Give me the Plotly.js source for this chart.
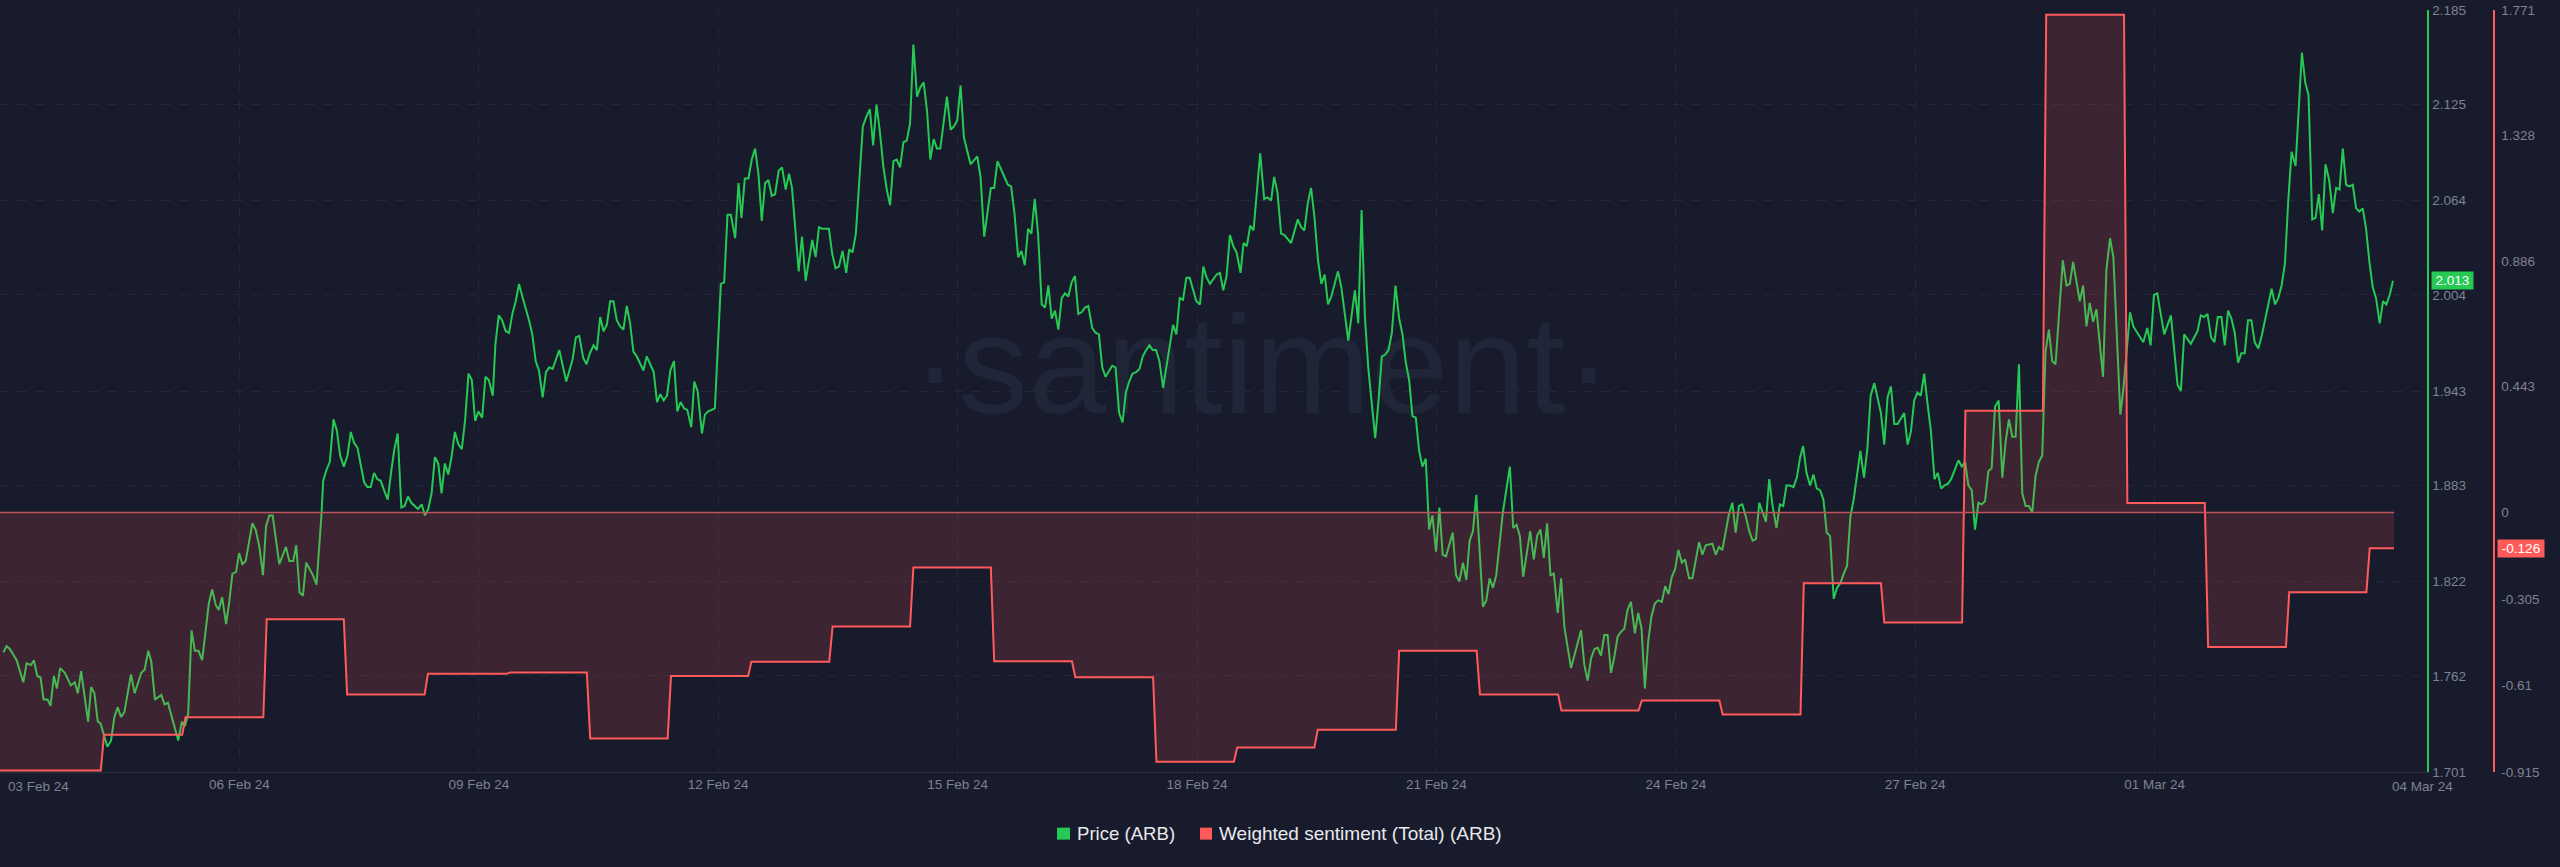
<!DOCTYPE html>
<html>
<head>
<meta charset="utf-8">
<title>Price and weighted sentiment (ARB)</title>
<script src="https://cdn.plot.ly/plotly-3.0.1.min.js"></script>
<style>
  html, body { margin: 0; padding: 0; background: #181b2b; }
</style>
</head>
<body>
<div id="chart"></div>
<script>
// hours since 03 Feb 24 00:00
const priceHours = [
  1, 2, 3, 5, 7, 8, 9.3, 10.2, 11.2, 12.2, 13.1, 14.3, 15.2, 16.2, 17.1, 18.1, 19.5, 21.3, 22.5, 23.4,
  24.4, 25.4, 26.5, 27.4, 28.4, 29.4, 30.2, 31.2, 32.3, 33.4, 34.4, 35.4, 36.4, 37.4, 39.4, 40.5, 42.5, 43.5, 44.6, 45.5,
  46.6, 48.5, 49.5, 50.5, 53.6, 54.7, 55.6, 56.6, 57.6, 58.6, 59.7, 60.8, 61.8, 62.8, 63.8, 64.9, 65.8, 66.8, 68, 69,
  69.9, 71, 71.9, 72.9, 73.9, 75.9, 76.9, 78, 79.1, 80, 81, 82, 84, 86, 87, 88.2, 89.1, 90.1, 91.1, 92.1,
  94.1, 95.2, 96.7, 97.2, 98.2, 99.2, 100.3, 101.3, 102.3, 103.4,
  104.5, 105.5, 106.5, 107.5, 109.5, 110.5, 111.5, 112.5, 113.5, 114.5, 115.5, 116.6, 117.6, 118.6, 119.6, 120.7, 121.7, 122.7, 123.7, 124.7,
  125.7, 126.8, 127.8, 128.8, 129.8, 130.8, 131.8, 132.8, 133.8, 134.8, 135.8, 136.8, 137.9, 138.9, 139.9, 140.9, 141.9, 142.9, 143.9, 145,
  146, 147, 148.2, 149, 150, 151, 152.1, 153.1, 154.1, 155.1, 156.1, 157.1, 158.1, 159.1, 160.1, 161.1, 162.1, 163.2, 164.2, 165.2,
  166.2, 168.2, 170.3, 171.2, 172.2, 173.2, 174.2, 175.4, 176.4, 177.4, 178.5, 179.5, 180.5, 181.5, 182.5, 183.5, 184.5, 185.5, 186.5, 187.5,
  188.5, 189.5, 190.5, 191.5, 192.5, 193.5, 194.5, 195.5, 196.6, 197.6, 198.6, 199.6, 200.6, 201.6, 202.7, 203.7, 204.7, 205.7, 206.7, 207.9,
  208.8, 209.8, 211.1, 212, 212.9, 215,
  216.8, 217.8, 218.8, 219.8, 221.1, 222.1, 223, 224, 225.1, 226.1, 227.1, 228.1, 229.1, 230.1, 231.1, 232.1, 233.1, 234.2, 235.2, 236.3,
  237.3, 238.2, 239.2, 240.2, 241.2, 242.3, 244.3, 245.3, 246.3, 247.3, 249.3, 250.3, 251.3, 252.3, 253.4, 254.5, 255.4, 256.4, 257.4, 258.1,
  259.5, 260.5, 261.6, 262.6, 263.6, 264.6, 265.7, 266.7, 267.7, 268.7, 269.7, 270.7, 271.7, 272.7, 273.7, 274.7, 275.8, 276.8, 277.8, 278.8,
  279.8, 280.8, 281.8, 282.8, 284.8, 285.9, 286.9, 287.9, 288.9, 289.9, 290.9, 291.9, 293.9, 294.9, 296, 298, 299, 300, 303.1, 304.1,
  305.1, 306.2, 307.2, 308.2, 309.2, 310.2, 311.2, 312.2,
  313.3, 314.3, 315.3, 316.3, 317.3, 318.3, 319.3, 320.3, 321.3, 322.3, 323.3, 324.3, 325.3, 326.3, 327.3, 328.5, 329.5, 330.5, 331.5, 332.5,
  334.5, 335.5, 336.6, 337.6, 338.6, 339.6, 340.6, 341.7, 342.7, 343.7, 344.7, 345.7, 346.7, 347.7, 348.7, 349.8, 352.8, 353.8, 354.8, 355.8,
  356.8, 357.8, 359.8, 360.9, 361.9, 362.9, 363.9, 365.9, 366.9, 367.9, 368.9, 369.9, 370.9, 371.9, 373.1, 374, 375, 376, 377, 379,
  380.2, 381.2, 382.3, 383.2, 384.2, 385.3, 386.3, 388.3, 390.3, 391.3, 392.3, 393.3, 394.3, 395.3, 396.4, 397.4, 398.4, 399.4, 400.4, 402.4,
  403.4, 405.5, 407.5, 408.5, 409.5, 410.5, 411.5, 413.6, 414.6, 415.6, 416.6, 417.6, 418.6, 419.7,
  420.8, 421.8, 422.8, 423.8, 424.8, 425.8, 426.8, 427.8, 428.8, 429.8, 430.8, 431.9, 432.9, 433.9, 434.9, 436.9, 437.9, 438.9, 440, 441,
  442, 443, 444, 446, 447, 448, 449, 450, 452, 454.1, 455.1, 456.1, 457.1, 458.1, 460.2, 461.3, 462.3, 463.3, 464.3, 465.3,
  466.3, 467.3, 468.5, 469.5, 470.5, 471.5, 472.5, 475.5, 476.5, 477.5, 478.5, 479.5, 480.5, 481.5, 482.5, 483.5, 484.5, 485.5, 486.5, 487.5,
  488.5, 489.5, 490.5, 491.7, 492.7, 493.7, 494.7, 495.7, 496.7, 497.7, 498.7, 499.8, 500.8, 501.8, 502.8, 503.8, 504.8, 505.8, 506.8, 508,
  509, 511, 512, 513, 515, 516, 517, 518, 520, 521, 522, 523, 524,
  525.1, 526.1, 527.1, 528.1, 529.1, 530.1, 531.1, 532.1, 533.1, 534.3, 535.3, 536.3, 537.3, 538.3, 539.4, 540.4, 541.4, 542.3, 543.3, 544.4,
  545.4, 546.4, 547.4, 548.4, 549.4, 550.4, 551.5, 552.5, 553.5, 554.5, 555.5, 556.5, 557.5, 559.5, 560.6, 561.6, 562.6, 563.7, 564.7, 565.7,
  566.7, 567.7, 568.7, 569.7, 570.7, 572.7, 573.7, 574.7, 575.7, 576.7, 577.7, 578.7, 579.7, 580.7, 581.8, 582.8, 583.8, 584.8, 585.8, 586.8,
  589, 590, 591, 592, 593, 594, 595, 596, 597, 598, 599, 600, 601.1, 602.2, 603.2, 604.2, 605.2, 606.2, 607.2, 608.2,
  609.2, 610.2, 611.2, 612.2, 613.2, 614.2, 615.2, 616.2, 617.2, 618.2, 620.4, 621.5, 622.5, 623.5, 625.5, 626.5, 627.5, 628.5, 629.5, 630.5,
  632.5, 633.5, 634.6, 635.6, 637.7, 638.7, 640.6, 641.6, 644.6, 645.8, 646.8, 647.8, 648.8, 650.9, 652.9, 654.9, 655.9, 656.9, 658.9, 660.9,
  661.9, 662.9, 663.9, 665, 666, 667, 668.1, 669.1, 670.1, 671.1, 672.1, 673.1, 674.1, 675.1, 676.1, 677.1, 678.1, 679.2, 680.2, 683.2,
  684.2, 685.2, 686.2, 687.2, 688.2, 689.2, 690.4, 692.3, 693.3, 694.3, 695.4, 696.4, 697.4, 698.4, 699.4, 700.5, 701.6, 702.6, 703.6, 704.6,
  705.6, 706.6, 707.6, 708.6, 709.6, 710.6, 711.6, 712.6, 713.6, 714.6, 715.7, 716.7, 717.7, 718.7, 719.7
];

const priceValues = [
  1.777, 1.781, 1.779, 1.772, 1.758, 1.770, 1.769, 1.772, 1.762, 1.761, 1.747, 1.747, 1.743, 1.762, 1.754, 1.767, 1.764, 1.756, 1.758, 1.751,
  1.765, 1.751, 1.733, 1.755, 1.751, 1.733, 1.732, 1.725, 1.717, 1.721, 1.736, 1.742, 1.736, 1.739, 1.763, 1.751, 1.764, 1.766, 1.778, 1.771,
  1.747, 1.750, 1.744, 1.745, 1.721, 1.733, 1.730, 1.738, 1.791, 1.778, 1.778, 1.772, 1.789, 1.808, 1.817, 1.807, 1.804, 1.812, 1.795, 1.810,
  1.827, 1.828, 1.840, 1.833, 1.835, 1.859, 1.855, 1.844, 1.826, 1.857, 1.864, 1.864, 1.833, 1.844, 1.835, 1.835, 1.845, 1.815, 1.813, 1.834,
  1.826, 1.820, 1.865, 1.886, 1.893, 1.898, 1.925, 1.918, 1.902, 1.895,
  1.902, 1.917, 1.910, 1.907, 1.885, 1.882, 1.882, 1.891, 1.887, 1.886, 1.880, 1.874, 1.891, 1.906, 1.916, 1.869, 1.870, 1.876, 1.872, 1.870,
  1.868, 1.871, 1.864, 1.868, 1.878, 1.901, 1.897, 1.878, 1.897, 1.890, 1.901, 1.917, 1.909, 1.906, 1.925, 1.954, 1.950, 1.924, 1.930, 1.926,
  1.952, 1.950, 1.940, 1.973, 1.991, 1.988, 1.981, 1.980, 1.992, 2.000, 2.011, 2.003, 1.996, 1.988, 1.979, 1.962, 1.956, 1.939, 1.955, 1.958,
  1.957, 1.969, 1.949, 1.956, 1.963, 1.977, 1.978, 1.964, 1.960, 1.967, 1.972, 1.969, 1.990, 1.981, 1.985, 2.000, 2.000, 1.988, 1.984, 1.982,
  1.997, 1.986, 1.968, 1.965, 1.960, 1.956, 1.965, 1.960, 1.955, 1.936, 1.941, 1.937, 1.940, 1.956, 1.962, 1.930, 1.936, 1.932, 1.931, 1.920,
  1.949, 1.943, 1.916, 1.928, 1.930, 1.932,
  2.011, 2.012, 2.055, 2.055, 2.040, 2.075, 2.053, 2.078, 2.078, 2.090, 2.097, 2.081, 2.051, 2.075, 2.077, 2.067, 2.068, 2.083, 2.085, 2.071,
  2.081, 2.072, 2.047, 2.019, 2.041, 2.013, 2.039, 2.028, 2.047, 2.046, 2.046, 2.030, 2.021, 2.022, 2.032, 2.018, 2.033, 2.031, 2.043, 2.064,
  2.111, 2.117, 2.122, 2.099, 2.125, 2.108, 2.085, 2.071, 2.061, 2.089, 2.090, 2.085, 2.101, 2.102, 2.113, 2.163, 2.130, 2.136, 2.139, 2.121,
  2.090, 2.103, 2.097, 2.097, 2.130, 2.109, 2.111, 2.115, 2.137, 2.104, 2.095, 2.087, 2.092, 2.079, 2.041, 2.072, 2.072, 2.089, 2.074, 2.073,
  2.056, 2.028, 2.032, 2.023, 2.046, 2.043, 2.065, 2.043,
  1.998, 1.996, 2.010, 1.989, 1.994, 1.982, 2.002, 2.005, 2.003, 2.012, 2.016, 1.992, 1.993, 1.996, 1.997, 1.983, 1.980, 1.979, 1.958, 1.952,
  1.959, 1.958, 1.929, 1.923, 1.942, 1.949, 1.954, 1.955, 1.957, 1.965, 1.969, 1.972, 1.969, 1.969, 1.962, 1.945, 1.985, 1.979, 2.002, 2.001,
  2.015, 2.015, 2.000, 1.998, 2.022, 2.015, 2.011, 2.017, 2.018, 2.007, 2.016, 2.042, 2.035, 2.031, 2.018, 2.037, 2.035, 2.048, 2.045, 2.094,
  2.065, 2.066, 2.064, 2.079, 2.069, 2.043, 2.042, 2.037, 2.052, 2.047, 2.045, 2.062, 2.072, 2.054, 2.026, 2.011, 2.017, 1.998, 2.003, 2.019,
  2.009, 1.975, 2.007, 1.986, 2.058, 1.990, 1.958, 1.913, 1.937, 1.965, 1.966, 1.969, 1.980, 2.010,
  1.989, 1.979, 1.961, 1.950, 1.927, 1.926, 1.905, 1.895, 1.900, 1.855, 1.864, 1.841, 1.869, 1.839, 1.838, 1.853, 1.826, 1.822, 1.834, 1.823,
  1.848, 1.854, 1.877, 1.806, 1.810, 1.824, 1.818, 1.826, 1.866, 1.895, 1.856, 1.858, 1.851, 1.825, 1.854, 1.836, 1.851, 1.855, 1.837, 1.859,
  1.826, 1.827, 1.802, 1.824, 1.793, 1.779, 1.767, 1.791, 1.769, 1.759, 1.773, 1.779, 1.780, 1.775, 1.788, 1.788, 1.764, 1.774, 1.787, 1.790,
  1.792, 1.804, 1.809, 1.789, 1.802, 1.792, 1.754, 1.784, 1.800, 1.808, 1.810, 1.809, 1.819, 1.814, 1.825, 1.830, 1.842, 1.834, 1.836, 1.824,
  1.824, 1.847, 1.839, 1.845, 1.846, 1.839, 1.844, 1.842, 1.865, 1.872, 1.853, 1.870, 1.871,
  1.863, 1.854, 1.848, 1.849, 1.872, 1.866, 1.860, 1.887, 1.870, 1.856, 1.871, 1.870, 1.883, 1.883, 1.882, 1.888, 1.901, 1.908, 1.891, 1.883,
  1.890, 1.881, 1.880, 1.874, 1.853, 1.851, 1.811, 1.818, 1.821, 1.827, 1.832, 1.863, 1.874, 1.905, 1.888, 1.906, 1.940, 1.948, 1.939, 1.929,
  1.909, 1.939, 1.946, 1.922, 1.922, 1.929, 1.909, 1.917, 1.937, 1.942, 1.940, 1.954, 1.935, 1.918, 1.887, 1.891, 1.881, 1.883, 1.884, 1.887,
  1.899, 1.895, 1.898, 1.883, 1.880, 1.855, 1.872, 1.871, 1.873, 1.892, 1.894, 1.933, 1.937, 1.888, 1.911, 1.925, 1.914, 1.914, 1.960, 1.878,
  1.870, 1.870, 1.866, 1.889, 1.898, 1.902, 1.968, 1.982, 1.962, 1.960, 2.026, 2.010, 2.011, 2.025, 2.000, 2.010, 1.984, 1.999, 1.987, 1.995,
  1.952, 2.020, 2.040, 2.028, 1.928, 1.946, 1.993, 1.984, 1.974, 1.983, 1.972, 2.004, 2.005, 1.979, 1.991, 1.947, 1.943, 1.979, 1.973, 1.981,
  1.991, 1.990, 1.992, 1.977, 1.974, 1.990, 1.990, 1.972, 1.994, 1.989, 1.980, 1.961, 1.967, 1.967, 1.988, 1.988, 1.974, 1.970, 1.978, 2.008,
  1.998, 2.002, 2.010, 2.024, 2.064, 2.095, 2.086, 2.158, 2.139, 2.131, 2.052, 2.053, 2.068, 2.045, 2.087, 2.077, 2.056, 2.072, 2.071, 2.097,
  2.074, 2.073, 2.074, 2.059, 2.057, 2.059, 2.046, 2.025, 2.009, 2.002, 1.986, 2.000, 1.998, 2.004, 2.013
];

// hour each sentiment level starts at, last one runs to sentimentEndHour
const sentimentStartHours = [
  0, 31.3, 55.8, 80.2, 104.4, 128.7, 153.4, 177.5, 201.8, 226, 250.4, 274.7, 299, 323.4, 347.8,
  372.1, 396.3, 420.8, 445.1, 469.6, 493.8, 518.1, 542.5, 566.7, 591.1, 615.4, 639.8, 664.1, 688.5, 712.7
];
const sentimentEndHour = 720;
const sentimentValues = [
  -0.910, -0.784, -0.722, -0.377, -0.642, -0.569, -0.564, -0.797, -0.577, -0.526, -0.402, -0.194, -0.525, -0.581, -0.879,
  -0.829, -0.766, -0.488, -0.642, -0.698, -0.663, -0.712, -0.250, -0.388, 0.358, 1.754, 0.033, -0.474, -0.281, -0.126
];

const dateTickHours = [72, 144, 216, 288, 360, 432, 504, 576, 648];
const dateTickLabels = ["06 Feb 24", "09 Feb 24", "12 Feb 24", "15 Feb 24", "18 Feb 24", "21 Feb 24", "24 Feb 24", "27 Feb 24", "01 Mar 24"];
const firstDateLabel = "03 Feb 24";
const lastDateLabel = "04 Mar 24";

const priceTicks = [1.701, 1.762, 1.822, 1.883, 1.943, 2.004, 2.064, 2.125, 2.185];
const sentimentTicks = [-0.915, -0.61, -0.305, 0, 0.443, 0.886, 1.328, 1.771];

const GREEN = "#26c953";
const RED = "#ff5b5b";
const BG = "#181b2b";
const GRID = "#24273a";
const TICK_COLOR = "#7e8291";
const FONT = "Liberation Sans, sans-serif";

const WIDTH = 2560;
const HEIGHT = 867;
const PLOT_TOP = 9.7;
const PLOT_BOTTOM = 772.3;
const PLOT_RIGHT = 2427;

const toDate = (hour) => new Date(Date.UTC(2024, 1, 3) + hour * 3600000).toISOString();
const paperX = (px) => px / WIDTH;
const paperY = (px) => (PLOT_BOTTOM - px) / (PLOT_BOTTOM - PLOT_TOP);

// each level holds until an hour before the next one starts
const sentimentX = [];
const sentimentY = [];
sentimentValues.forEach((value, i) => {
  const next = i + 1 < sentimentStartHours.length ? sentimentStartHours[i + 1] - 1 : sentimentEndHour;
  sentimentX.push(toDate(sentimentStartHours[i]), toDate(next));
  sentimentY.push(value, value);
});

const traces = [
  {
    // watermark sits under the price line
    x: [toDate(379.5)],
    y: [1.951],
    mode: "text",
    text: ["·santiment·"],
    textposition: "middle center",
    textfont: { family: FONT, size: 140, color: "#212538" },
    hoverinfo: "skip",
    showlegend: false,
  },
  {
    name: "Price (ARB)",
    x: priceHours.map(toDate),
    y: priceValues,
    mode: "lines",
    line: { color: GREEN, width: 2 },
    showlegend: false,
  },
  {
    name: "Weighted sentiment (Total) (ARB)",
    x: sentimentX,
    y: sentimentY,
    yaxis: "y2",
    mode: "lines",
    fill: "tozeroy",
    fillcolor: "rgba(255, 91, 91, 0.156)",
    line: { color: RED, width: 2 },
    showlegend: false,
  },
  {
    // zero baseline of the filled area
    x: [toDate(0), toDate(sentimentEndHour)],
    y: [0, 0],
    yaxis: "y2",
    mode: "lines",
    line: { color: "#bd555a", width: 1.5 },
    hoverinfo: "skip",
    showlegend: false,
  },
];

const tickFont = { family: FONT, size: 13.5, color: TICK_COLOR };

const labelAt = (text, x, y, anchor) => ({
  text,
  xref: "paper",
  yref: "paper",
  x: paperX(x),
  y: paperY(y),
  xanchor: anchor,
  yanchor: "middle",
  showarrow: false,
  font: tickFont,
});

const layout = {
  width: WIDTH,
  height: HEIGHT,
  paper_bgcolor: BG,
  plot_bgcolor: BG,
  showlegend: false,
  margin: { l: 0, r: 0, t: PLOT_TOP, b: HEIGHT - PLOT_BOTTOM, pad: 0 },
  xaxis: {
    type: "date",
    domain: [0, PLOT_RIGHT / WIDTH],
    range: [toDate(0), toDate(PLOT_RIGHT / 3.325)],
    tickmode: "array",
    tickvals: dateTickHours.map(toDate),
    ticktext: dateTickLabels,
    tickfont: tickFont,
    ticks: "",
    showgrid: true,
    gridcolor: GRID,
    griddash: "dash",
    gridwidth: 1,
    showline: true,
    linecolor: "#2a2d3e",
    linewidth: 1,
    zeroline: false,
  },
  yaxis: {
    side: "right",
    range: [priceTicks[0], priceTicks[priceTicks.length - 1]],
    tickmode: "array",
    tickvals: priceTicks,
    ticktext: priceTicks.map((v) => v.toFixed(3)),
    tickfont: tickFont,
    ticks: "",
    ticklabelstandoff: 1,
    showgrid: true,
    gridcolor: GRID,
    griddash: "dash",
    gridwidth: 1,
    showline: true,
    linecolor: GREEN,
    linewidth: 1.5,
    zeroline: false,
  },
  yaxis2: {
    overlaying: "y",
    side: "right",
    anchor: "free",
    position: 2493 / WIDTH,
    range: [sentimentTicks[0], sentimentTicks[sentimentTicks.length - 1]],
    tickmode: "array",
    tickvals: sentimentTicks,
    ticktext: sentimentTicks.map(String),
    tickfont: tickFont,
    ticks: "",
    ticklabelstandoff: 4,
    showgrid: false,
    showline: true,
    linecolor: RED,
    linewidth: 1.5,
    zeroline: false,
  },
  shapes: [
    { type: "rect", xref: "paper", yref: "paper", x0: paperX(1057), x1: paperX(1070), y0: paperY(840), y1: paperY(828), fillcolor: GREEN, line: { width: 0 } },
    { type: "rect", xref: "paper", yref: "paper", x0: paperX(1200), x1: paperX(1212), y0: paperY(840), y1: paperY(828), fillcolor: RED, line: { width: 0 } },
  ],
  annotations: [
    labelAt(firstDateLabel, 6, 786.5, "left"),
    labelAt(lastDateLabel, 2390, 786.5, "left"),
    {
      ...labelAt("Price (ARB)", 1075, 834, "left"),
      font: { family: FONT, size: 18.6, color: "#e8e9ee" },
    },
    {
      ...labelAt("Weighted sentiment (Total) (ARB)", 1217, 834, "left"),
      font: { family: FONT, size: 19, color: "#e8e9ee" },
    },
    {
      text: priceValues[priceValues.length - 1].toFixed(3),
      xref: "paper",
      yref: "y",
      x: paperX(2431),
      y: priceValues[priceValues.length - 1],
      xanchor: "left",
      yanchor: "middle",
      width: 39,
      height: 15,
      bgcolor: GREEN,
      showarrow: false,
      font: { family: FONT, size: 13.5, color: "#ffffff" },
    },
    {
      text: String(sentimentValues[sentimentValues.length - 1]),
      xref: "paper",
      yref: "y2",
      x: paperX(2497),
      y: sentimentValues[sentimentValues.length - 1],
      xanchor: "left",
      yanchor: "middle",
      width: 44,
      height: 15,
      bgcolor: RED,
      showarrow: false,
      font: { family: FONT, size: 13.5, color: "#ffffff" },
    },
  ],
};

Plotly.newPlot("chart", traces, layout, { displayModeBar: false, staticPlot: true });
</script>
</body>
</html>
